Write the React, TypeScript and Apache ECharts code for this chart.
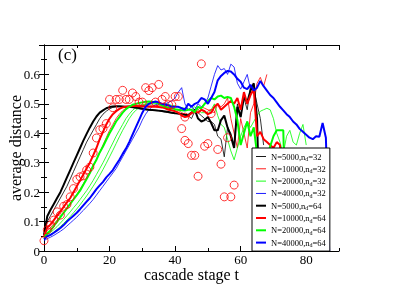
import React, { useEffect, useRef } from "react";
import * as echarts from "echarts";

// stage t = array index
const thinBlack = [0.055, 0.1, 0.12, 0.14, 0.16, 0.18, 0.2, 0.22, 0.245, 0.27, 0.295, 0.32, 0.345, 0.37, 0.39, 0.41, 0.43, 0.45, 0.465, 0.475, 0.483, 0.488, 0.49, 0.49, 0.49, 0.489, 0.488, 0.487, 0.485, 0.483, 0.481, 0.48, 0.479, 0.478, 0.477, 0.476, 0.474, 0.472, 0.47, 0.469, 0.468, 0.466, 0.465, 0.463, 0.46, 0.45, 0.475, 0.47, 0.46, 0.45, 0.44, 0.44, 0.43, 0.39, 0.38, 0.32, 0.42, 0.4, 0.36, 0.5, 0.46, 0.52, 0.48, 0.56, 0.55, 0.5, 0.45, 0.36];
const thinRed = [0.05, 0.07, 0.08, 0.092, 0.105, 0.118, 0.13, 0.145, 0.16, 0.175, 0.192, 0.21, 0.228, 0.248, 0.268, 0.29, 0.312, 0.335, 0.36, 0.385, 0.41, 0.43, 0.45, 0.465, 0.477, 0.485, 0.49, 0.493, 0.495, 0.496, 0.496, 0.496, 0.496, 0.495, 0.495, 0.494, 0.492, 0.49, 0.488, 0.485, 0.482, 0.478, 0.47, 0.465, 0.46, 0.465, 0.47, 0.48, 0.49, 0.485, 0.48, 0.475, 0.47, 0.5, 0.49, 0.5, 0.52, 0.45, 0.4, 0.35, 0.45, 0.4, 0.35, 0.47, 0.5, 0.57, 0.59, 0.56, 0.6];
const thinGreen = [0.045, 0.055, 0.063, 0.073, 0.083, 0.095, 0.107, 0.12, 0.133, 0.147, 0.16, 0.175, 0.19, 0.205, 0.222, 0.24, 0.26, 0.28, 0.3, 0.322, 0.345, 0.367, 0.39, 0.41, 0.43, 0.45, 0.465, 0.478, 0.487, 0.493, 0.497, 0.5, 0.502, 0.503, 0.503, 0.502, 0.5, 0.5, 0.498, 0.495, 0.493, 0.49, 0.487, 0.485, 0.482, 0.48, 0.49, 0.48, 0.47, 0.47, 0.465, 0.48, 0.5, 0.46, 0.43, 0.42, 0.38, 0.34, 0.31, 0.35, 0.39, 0.42, 0.44, 0.42, 0.44, 0.46, 0.475, 0.48, 0.485, 0.48, 0.45, 0.4, 0.37, 0.33, 0.39, 0.41, 0.37, 0.36, 0.4, 0.43, 0.36];
const thinGreenB = [0.04, 0.05, 0.056, 0.064, 0.073, 0.083, 0.094, 0.105, 0.117, 0.13, 0.143, 0.157, 0.172, 0.187, 0.203, 0.22, 0.238, 0.257, 0.277, 0.298, 0.32, 0.342, 0.365, 0.388, 0.41, 0.43, 0.45, 0.466, 0.478, 0.487, 0.493, 0.497, 0.5, 0.5, 0.5];
const thinBlue = [0.035, 0.042, 0.047, 0.053, 0.06, 0.067, 0.075, 0.085, 0.095, 0.105, 0.115, 0.127, 0.138, 0.15, 0.162, 0.175, 0.19, 0.205, 0.22, 0.235, 0.25, 0.265, 0.28, 0.3, 0.32, 0.34, 0.36, 0.38, 0.4, 0.42, 0.445, 0.465, 0.48, 0.49, 0.497, 0.5, 0.5, 0.5, 0.505, 0.51, 0.52, 0.54, 0.555, 0.5, 0.48, 0.49, 0.48, 0.5, 0.49, 0.5, 0.52, 0.56, 0.6, 0.63, 0.615, 0.62, 0.6, 0.635, 0.625, 0.57, 0.55, 0.575, 0.6, 0.55];
const thickBlack = [0.055, 0.118, 0.14, 0.16, 0.18, 0.2, 0.225, 0.25, 0.275, 0.3, 0.325, 0.35, 0.375, 0.398, 0.42, 0.44, 0.457, 0.47, 0.478, 0.485, 0.489, 0.491, 0.492, 0.492, 0.491, 0.49, 0.49, 0.489, 0.488, 0.486, 0.484, 0.482, 0.48, 0.479, 0.478, 0.477, 0.476, 0.474, 0.472, 0.47, 0.468, 0.467, 0.465, 0.463, 0.462, 0.47, 0.48, 0.45, 0.44, 0.445, 0.455, 0.435, 0.41, 0.41, 0.445, 0.46, 0.42, 0.39, 0.35, 0.49, 0.455, 0.525, 0.505, 0.545, 0.57, 0.45, 0];
const thickRed = [0.05, 0.08, 0.09, 0.105, 0.12, 0.135, 0.15, 0.165, 0.18, 0.2, 0.22, 0.24, 0.26, 0.28, 0.3, 0.325, 0.35, 0.38, 0.405, 0.43, 0.45, 0.465, 0.475, 0.483, 0.488, 0.49, 0.492, 0.493, 0.493, 0.492, 0.492, 0.491, 0.49, 0.49, 0.49, 0.489, 0.488, 0.485, 0.48, 0.478, 0.475, 0.47, 0.46, 0.455, 0.458, 0.47, 0.475, 0.47, 0.48, 0.475, 0.465, 0.47, 0.49, 0.5, 0.48, 0.49, 0.5, 0.51, 0.5, 0.52, 0.48, 0.54, 0.5, 0.53, 0.55, 0.39, 0.405, 0.38, 0.37, 0.36, 0.35, 0.37, 0.36, 0];
const thickGreen = [0.045, 0.06, 0.07, 0.085, 0.1, 0.115, 0.13, 0.145, 0.16, 0.175, 0.19, 0.205, 0.225, 0.245, 0.265, 0.29, 0.31, 0.335, 0.355, 0.378, 0.4, 0.42, 0.44, 0.455, 0.47, 0.482, 0.49, 0.497, 0.5, 0.503, 0.505, 0.507, 0.508, 0.507, 0.505, 0.5, 0.495, 0.49, 0.487, 0.485, 0.482, 0.48, 0.478, 0.477, 0.48, 0.48, 0.472, 0.49, 0.485, 0.5, 0.51, 0.52, 0.515, 0.525, 0.528, 0.52, 0.523, 0.52, 0.49, 0.445, 0.36, 0.4, 0.44, 0.39, 0.42, 0.33, 0.3, 0.3, 0.32, 0.355, 0.39, 0.41, 0.41, 0.41, 0];
const thickBlue = [0.04, 0.05, 0.055, 0.062, 0.07, 0.078, 0.088, 0.1, 0.11, 0.12, 0.13, 0.142, 0.155, 0.168, 0.18, 0.195, 0.21, 0.223, 0.235, 0.25, 0.262, 0.275, 0.293, 0.31, 0.33, 0.348, 0.37, 0.395, 0.42, 0.445, 0.47, 0.49, 0.5, 0.505, 0.508, 0.505, 0.5, 0.497, 0.495, 0.49, 0.49, 0.49, 0.485, 0.48, 0.5, 0.49, 0.5, 0.505, 0.52, 0.515, 0.5, 0.52, 0.54, 0.58, 0.595, 0.605, 0.612, 0.61, 0.6, 0.585, 0.575, 0.555, 0.55, 0.565, 0.545, 0.555, 0.578, 0.56, 0.545, 0.53, 0.52, 0.505, 0.49, 0.478, 0.465, 0.455, 0.44, 0.43, 0.415, 0.405, 0.395, 0.385, 0.38, 0.39, 0.388, 0.435, 0.385, 0];

const circleT = [0, 1, 2, 3, 4, 5, 6, 7, 8, 9, 10, 11, 12, 13, 14, 15, 16, 17, 18, 19, 20, 21, 22, 23, 24, 25, 26, 27, 28, 29, 30, 31, 32, 33, 34, 35, 36, 37, 38, 39, 40, 41, 42, 43, 43, 44, 45, 46, 47, 48, 49, 50, 51, 53, 54, 55, 56, 57, 58];
const circleY = [0.035, 0.072, 0.088, 0.105, 0.133, 0.122, 0.152, 0.158, 0.184, 0.212, 0.243, 0.252, 0.256, 0.275, 0.285, 0.333, 0.384, 0.412, 0.416, 0.433, 0.515, 0.487, 0.515, 0.515, 0.546, 0.515, 0.515, 0.537, 0.525, 0.506, 0.506, 0.555, 0.545, 0.555, 0.506, 0.566, 0.515, 0.525, 0.497, 0.497, 0.525, 0.525, 0.416, 0.376, 0.455, 0.365, 0.325, 0.325, 0.254, 0.636, 0.356, 0.365, 0.467, 0.345, 0.295, 0.184, 0.385, 0.184, 0.224];

const xTicks = { min: 0, max: 90, major: 20, minor: 10 };
const yTicks = { min: 0, max: 0.7, major: 0.1 };

const FONT = "'Liberation Serif', 'DejaVu Serif', serif";

const lineDefs = [
  { name: "N=5000,n_d=32", data: thinBlack, color: "#000000", width: 0.8 },
  { name: "N=10000,n_d=32", data: thinRed, color: "#ff0000", width: 0.8 },
  { name: "N=20000,n_d=32", data: thinGreen, color: "#00ff00", width: 0.8 },
  { name: "N=40000,n_d=32", data: thinBlue, color: "#0000ff", width: 0.8 },
  { name: "N=5000,n_d=64", data: thickBlack, color: "#000000", width: 2 },
  { name: "N=10000,n_d=64", data: thickRed, color: "#ff0000", width: 2 },
  { name: "N=20000,n_d=64", data: thickGreen, color: "#00ff00", width: 2 },
  { name: "N=40000,n_d=64", data: thickBlue, color: "#0000ff", width: 2 },
];

export default function App() {
  const ref = useRef<HTMLDivElement>(null);
  useEffect(() => {
    if (!ref.current) return;
    const chart = echarts.init(ref.current, null, { renderer: "svg" });
    const axisLine = { show: true, lineStyle: { color: "#000", width: 1 } };
    const tickMajor = { show: true, inside: true, length: 5, lineStyle: { color: "#000", width: 1 } };
    const tickMinor = { show: true, inside: true, length: 3, lineStyle: { color: "#000", width: 1 } };
    const base = { type: "value" as const, min: xTicks.min, max: xTicks.max, splitLine: { show: false } };
    const series: any[] = lineDefs.map((d) => ({
      type: "line",
      name: d.name,
      data: d.data.map((v, i) => [i, v]),
      symbol: "none",
      showSymbol: false,
      lineStyle: { color: d.color, width: d.width },
      itemStyle: { color: d.color },
      z: d.width > 1 ? 3 : 2,
    }));
    series.push({
      type: "line",
      name: "extra",
      data: thinGreenB.map((v, i) => [i, v]),
      symbol: "none",
      lineStyle: { color: "#00ff00", width: 0.8 },
      z: 2,
    });
    series.push({
      type: "scatter",
      name: "circles",
      data: circleT.map((t, i) => [t, circleY[i]]),
      symbol: "circle",
      symbolSize: 8,
      itemStyle: { color: "rgba(0,0,0,0)", borderColor: "#ff0000", borderWidth: 1 },
      z: 4,
    });
    chart.setOption({
      animation: false,
      grid: { left: 44, right: 68, top: 45, bottom: 37, containLabel: false, outerBoundsMode: "none" },
      xAxis: [
        {
          ...base, position: "bottom", interval: xTicks.major,
          axisLine, axisTick: tickMajor,
          axisLabel: { show: true, showMaxLabel: false, color: "#000", fontFamily: FONT, fontSize: 13, lineHeight: 12, margin: 2 },
          name: "cascade stage t", nameLocation: "middle", nameGap: 15, nameMoveOverlap: false,
          nameTextStyle: { color: "#000", fontFamily: FONT, fontSize: 16, lineHeight: 17 },
        },
        { ...base, position: "bottom", interval: xTicks.minor, axisLine: { show: false }, axisTick: tickMinor, axisLabel: { show: false } },
        { ...base, position: "top", interval: xTicks.major, axisLine, axisTick: tickMajor, axisLabel: { show: false } },
        { ...base, position: "top", interval: xTicks.minor, axisLine: { show: false }, axisTick: tickMinor, axisLabel: { show: false } },
      ],
      yAxis: [
        {
          type: "value", min: yTicks.min, max: yTicks.max, interval: yTicks.major, position: "left",
          splitLine: { show: false }, axisLine, axisTick: tickMajor,
          minorTick: { show: true, splitNumber: 2, length: 3, lineStyle: { color: "#000" } },
          minorSplitLine: { show: false },
          axisLabel: { show: true, showMaxLabel: false, color: "#000", fontFamily: FONT, fontSize: 13, margin: 4 },
          name: "average distance", nameLocation: "middle", nameGap: 21, nameMoveOverlap: false,
          nameTextStyle: { color: "#000", fontFamily: FONT, fontSize: 16 },
        },
        {
          type: "value", min: yTicks.min, max: yTicks.max, interval: yTicks.major, position: "right",
          splitLine: { show: false }, axisLine, axisTick: tickMajor,
          minorTick: { show: true, splitNumber: 2, length: 3, lineStyle: { color: "#000" } },
          minorSplitLine: { show: false },
          axisLabel: { show: false },
        },
      ],
      legend: {
        data: lineDefs.map((d) => ({
          name: d.name,
          icon: d.width > 1 ? "path://M0,0h10v2h-10z" : "path://M0,0h10v0.9h-10z",
          itemStyle: { color: d.color, borderWidth: 0 },
        })),
        orient: "vertical",
        left: 252,
        top: 148,
        padding: [3, 4, 3, 4],
        itemGap: 1.3,
        itemWidth: 10,
        itemHeight: 8,
        backgroundColor: "#ffffff",
        borderColor: "#000",
        borderWidth: 1,
        borderRadius: 0,
        selectedMode: false,
        formatter: (name: string) => {
          const p = name.split("_d");
          return `{a|${p[0]}}{s|d}{a|${p[1]}}`;
        },
        textStyle: {
          color: "#000",
          fontFamily: FONT,
          fontSize: 8.5,
          lineHeight: 8,
          rich: {
            a: { fontFamily: FONT, fontSize: 8.5, color: "#000", lineHeight: 8 },
            s: { fontFamily: FONT, fontSize: 6, color: "#000", lineHeight: 4, padding: [5, 0, 0, 0] },
          },
        },
      },
      graphic: [
        { type: "text", left: 58, top: 46, style: { text: "(c)", fontFamily: FONT, fontSize: 17, fill: "#000" } },
      ],
      series,
    });
    return () => chart.dispose();
  }, []);
  return <div ref={ref} style={{ position: "fixed", left: 0, top: 0, width: 407, height: 288 }} />;
}
